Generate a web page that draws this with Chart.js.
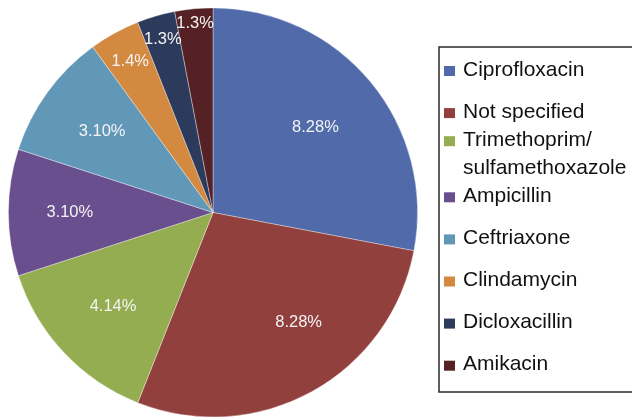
<!DOCTYPE html>
<html>
<head>
<meta charset="utf-8">
<script src="https://cdn.jsdelivr.net/npm/chart.js@4"></script>
<style>
  html, body { margin: 0; padding: 0; background: #fff; }
  #wrap { width: 632px; height: 418px; }
</style>
</head>
<body>
<div id="wrap"><canvas id="myChart" width="632" height="418"></canvas></div>
<script>
var categories = [
    'Ciprofloxacin',
    'Not specified',
    ['Trimethoprim/', 'sulfamethoxazole'],
    'Ampicillin',
    'Ceftriaxone',
    'Clindamycin',
    'Dicloxacillin',
    'Amikacin'
];
var shares = [28, 28, 14, 10, 10, 4, 3, 3];
var sliceLabels = ['8.28%', '8.28%', '4.14%', '3.10%', '3.10%', '1.4%', '1.3%', '1.3%'];
var colors = ['#506AAA', '#92403E', '#94AD50', '#6A4F8F', '#6298B7', '#D38940', '#2C3A5C', '#552124'];

// how far out (fraction of radius) each slice label sits
var labelRadius = [0.65, 0.68, 0.67, 0.70, 0.67, 0.84, 0.88, 0.93];
var labelShift = [0, -0.16, 0, 0, 0, 0, 0, 0];

var sliceText = {
    id: 'sliceText',
    afterDatasetsDraw: function (chart) {
        var c = chart.ctx;
        var arcs = chart.getDatasetMeta(0).data;
        c.save();
        c.font = '16.5px "Liberation Sans", Arial, sans-serif';
        c.fillStyle = '#f4f4f4';
        c.textAlign = 'center';
        c.textBaseline = 'middle';
        arcs.forEach(function (arc, i) {
            var a = (arc.startAngle + arc.endAngle) / 2 + labelShift[i];
            var r = arc.outerRadius * labelRadius[i];
            c.fillText(sliceLabels[i], arc.x + Math.cos(a) * r, arc.y + Math.sin(a) * r);
        });
        c.restore();
    }
};

var boxLegend = {
    id: 'boxLegend',
    afterDraw: function (chart) {
        var c = chart.ctx;
        c.save();
        c.strokeStyle = '#2a2a2a';
        c.lineWidth = 1.5;
        c.strokeRect(439, 47, 210, 345);
        c.font = '21px "Liberation Sans", Arial, sans-serif';
        c.textBaseline = 'middle';
        var step = 42.1, lineH = 28, y0 = 70;
        categories.forEach(function (lab, i) {
            var lines = Array.isArray(lab) ? lab : [lab];
            var cy = y0 + i * step;
            var top = cy - (lines.length - 1) * lineH / 2;
            c.fillStyle = colors[i];
            c.fillRect(444, top - 4, 11, 10);
            c.fillStyle = '#111';
            lines.forEach(function (t, k) {
                c.fillText(t, 463, top + k * lineH);
            });
        });
        c.restore();
    }
};

var ctx = document.getElementById('myChart').getContext('2d');
var myChart = new Chart(ctx, {
    type: 'pie',
    data: {
        labels: categories,
        datasets: [{
            data: shares,
            backgroundColor: colors,
            borderColor: 'rgba(255,255,255,0.45)',
            borderWidth: 0.8
        }]
    },
    options: {
        responsive: false,
        animation: false,
        layout: { padding: { left: 8, right: 214, top: 7, bottom: 0 } },
        plugins: {
            legend: { display: false },
            tooltip: { enabled: false }
        }
    },
    plugins: [sliceText, boxLegend]
});
</script>
</body>
</html>
